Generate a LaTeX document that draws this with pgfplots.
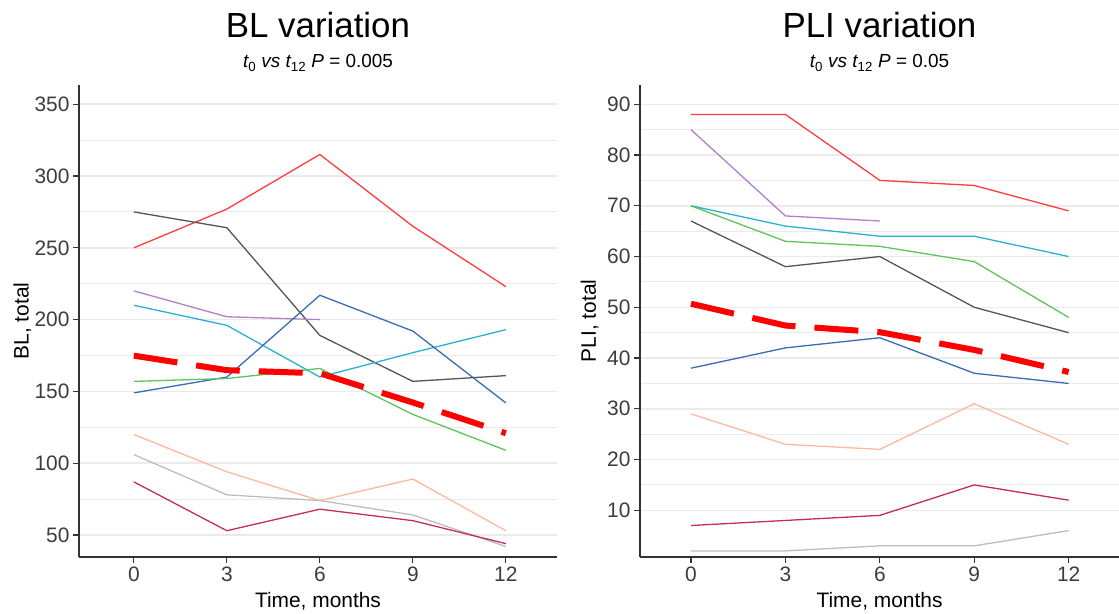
\documentclass[border=0pt]{standalone}
\usepackage{fontspec}
\setmainfont{Liberation Sans}
\usepackage{pgfplots}
\pgfplotsset{compat=1.18}
\definecolor{cRed}{RGB}{250,62,62}
\definecolor{cDark}{RGB}{85,85,85}
\definecolor{cPurple}{RGB}{176,128,200}
\definecolor{cCyan}{RGB}{39,178,206}
\definecolor{cBlue}{RGB}{58,109,176}
\definecolor{cGreen}{RGB}{93,195,93}
\definecolor{cSalmon}{RGB}{255,184,158}
\definecolor{cGrey}{RGB}{189,189,189}
\definecolor{cCrimson}{RGB}{196,45,90}
\definecolor{cMean}{RGB}{255,0,0}
\definecolor{gridc}{RGB}{235,235,235}
\definecolor{axc}{RGB}{51,51,51}
\definecolor{tickc}{RGB}{60,60,60}
\pgfplotsset{
  panel/.style={
    scale only axis, height=472bp,
    axis lines=left,
    axis line style={-, draw=axc, line width=1.5bp},
    tick align=outside,
    major tick length=6bp, minor tick length=0pt,
    tick style={draw=axc, line width=1.2bp},
    xtick={0,3,6,9,12},
    ymajorgrids, yminorgrids, minor y tick num=1,
    major grid style={draw=gridc, line width=1.5bp},
    minor grid style={draw=gridc, line width=0.9bp},
    tick label style={font=\fontsize{21}{24}\selectfont, text=tickc},
    /pgf/number format/assume math mode=true,
    label style={font=\fontsize{21}{24}\selectfont, text=black},
    xlabel={Time, months},
    xlabel style={at={(axis description cs:0.5,-0.108)}, anchor=base},
    clip mode=individual,
    every axis plot/.append style={line width=1.3bp, line join=round},
  },
  meanline/.style={draw=cMean, line width=6bp, dash pattern=on 44bp off 19bp},
}
\begin{document}
\begin{tikzpicture}[x=1bp,y=1bp]
\useasboundingbox (0,0) rectangle (1119,614);
% titles
\node[anchor=base, font=\fontsize{35}{40}\selectfont] at (318,576) {BL variation};
\node[anchor=base, font=\fontsize{19}{22}\selectfont] at (318,546) {{\itshape t}\textsubscript{0} {\itshape vs t}\textsubscript{12} {\itshape P} = 0.005};
\node[anchor=base, font=\fontsize{35}{40}\selectfont] at (879.5,576) {PLI variation};
\node[anchor=base, font=\fontsize{19}{22}\selectfont] at (879.5,546) {{\itshape t}\textsubscript{0} {\itshape vs t}\textsubscript{12} {\itshape P} = 0.05};

\begin{axis}[panel, at={(79bp,57bp)}, anchor=south west, width=478bp,
  xmin=-1.77, xmax=13.65, ymin=34.7, ymax=363.4,
  ytick={50,100,150,200,250,300,350},
  ylabel={BL, total},
  ylabel style={at={(axis description cs:-0.1054,0.5)}, anchor=base, rotate=0},
]
\addplot[cRed] coordinates {(0,250)(3,277)(6,315)(9,265)(12,223)};
\addplot[cDark] coordinates {(0,275)(3,264)(6,189)(9,157)(12,161)};
\addplot[cPurple] coordinates {(0,220)(3,202)(6,200)};
\addplot[cCyan] coordinates {(0,210)(3,196)(6,160)(9,177)(12,193)};
\addplot[cBlue] coordinates {(0,149)(3,160)(6,217)(9,192)(12,142)};
\addplot[cGreen] coordinates {(0,157)(3,159)(6,166)(9,134)(12,109)};
\addplot[cSalmon] coordinates {(0,120)(3,94)(6,74)(9,89)(12,53)};
\addplot[cGrey] coordinates {(0,106)(3,78)(6,74)(9,64)(12,42)};
\addplot[cCrimson] coordinates {(0,87)(3,53)(6,68)(9,60)(12,44)};
\addplot[meanline] coordinates {(0,174.9)(3,164.8)(6,162.6)(9,142.3)(12,120.9)};
\end{axis}

\begin{axis}[panel, at={(640bp,57bp)}, anchor=south west, width=479bp,
  xmin=-1.62, xmax=13.6, ymin=0.8, ymax=93.8,
  ytick={10,20,30,40,50,60,70,80,90},
  ylabel={PLI, total},
  ylabel style={at={(axis description cs:-0.092,0.5)}, anchor=base, rotate=0},
]
\addplot[cRed] coordinates {(0,88)(3,88)(6,75)(9,74)(12,69)};
\addplot[cPurple] coordinates {(0,85)(3,68)(6,67)};
\addplot[cCyan] coordinates {(0,70)(3,66)(6,64)(9,64)(12,60)};
\addplot[cGreen] coordinates {(0,70)(3,63)(6,62)(9,59)(12,48)};
\addplot[cDark] coordinates {(0,67)(3,58)(6,60)(9,50)(12,45)};
\addplot[cBlue] coordinates {(0,38)(3,42)(6,44)(9,37)(12,35)};
\addplot[cSalmon] coordinates {(0,29)(3,23)(6,22)(9,31)(12,23)};
\addplot[cCrimson] coordinates {(0,7)(3,8)(6,9)(9,15)(12,12)};
\addplot[cGrey] coordinates {(0,2)(3,2)(6,3)(9,3)(12,6)};
\addplot[meanline] coordinates {(0,50.7)(3,46.4)(6,45.1)(9,41.6)(12,37.25)};
\end{axis}
\end{tikzpicture}
\end{document}
